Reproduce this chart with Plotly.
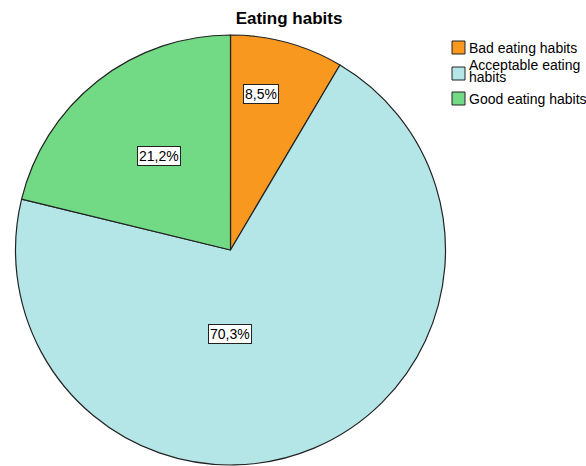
import plotly.graph_objects as go

categories = ["Bad eating habits", "Acceptable eating habits", "Good eating habits"]
legend_lines = [["Bad eating habits"], ["Acceptable eating", "habits"], ["Good eating habits"]]
percentages = [8.5, 70.3, 21.2]
colors = ["#F8981E", "#B4E6E7", "#72D985"]

W, H = 586, 466
FONT = "Liberation Sans, Arial"


def px(x):
    return x / W


def py(y):
    return 1 - y / H


fig = go.Figure(go.Pie(
    labels=categories,
    values=percentages,
    sort=False,
    direction="clockwise",
    rotation=0,
    marker=dict(colors=colors, line=dict(color="#222222", width=1.2)),
    textinfo="none",
    hoverinfo="skip",
    showlegend=False,
    domain=dict(x=[px(14), px(447)], y=[py(465), py(35)]),
))

# boxed percentage labels
label_px = [(261, 94), (230, 334), (159, 156)]
for v, (lx, ly) in zip(percentages, label_px):
    fig.add_annotation(
        x=px(lx), y=py(ly), xref="paper", yref="paper",
        xanchor="center", yanchor="middle",
        text=f"{v:.1f}".replace(".", ",") + "%",
        showarrow=False,
        font=dict(family=FONT, size=14, color="black"),
        bgcolor="white", bordercolor="#222222", borderwidth=1, borderpad=1,
    )

# legend drawn manually (SPSS style)
sq_top = [41, 67, 92]
for color, lines, top in zip(colors, legend_lines, sq_top):
    fig.add_shape(type="rect", xref="paper", yref="paper",
                  x0=px(452), x1=px(465), y0=py(top), y1=py(top + 13),
                  fillcolor=color, line=dict(color="#222222", width=1))
    if len(lines) == 1:
        ys = [top + 6.5]
    else:
        ys = [top - 2, top + 10.5]
    for t, yy in zip(lines, ys):
        fig.add_annotation(x=px(467), y=py(yy), xref="paper", yref="paper",
                           xanchor="left", yanchor="middle", showarrow=False,
                           text=t, font=dict(family=FONT, size=14, color="black"))

fig.update_layout(
    width=W, height=H,
    margin=dict(l=0, r=0, t=0, b=0),
    paper_bgcolor="white",
    plot_bgcolor="white",
    title=dict(text="<b>Eating habits</b>", x=px(289), xanchor="center",
               y=py(18), yanchor="middle",
               font=dict(family=FONT, size=17, color="black")),
    showlegend=False,
)

fig.write_html("out.html",
               config={"displayModeBar": False},
               post_script="document.body.style.margin='0';document.body.style.overflow='hidden';")
